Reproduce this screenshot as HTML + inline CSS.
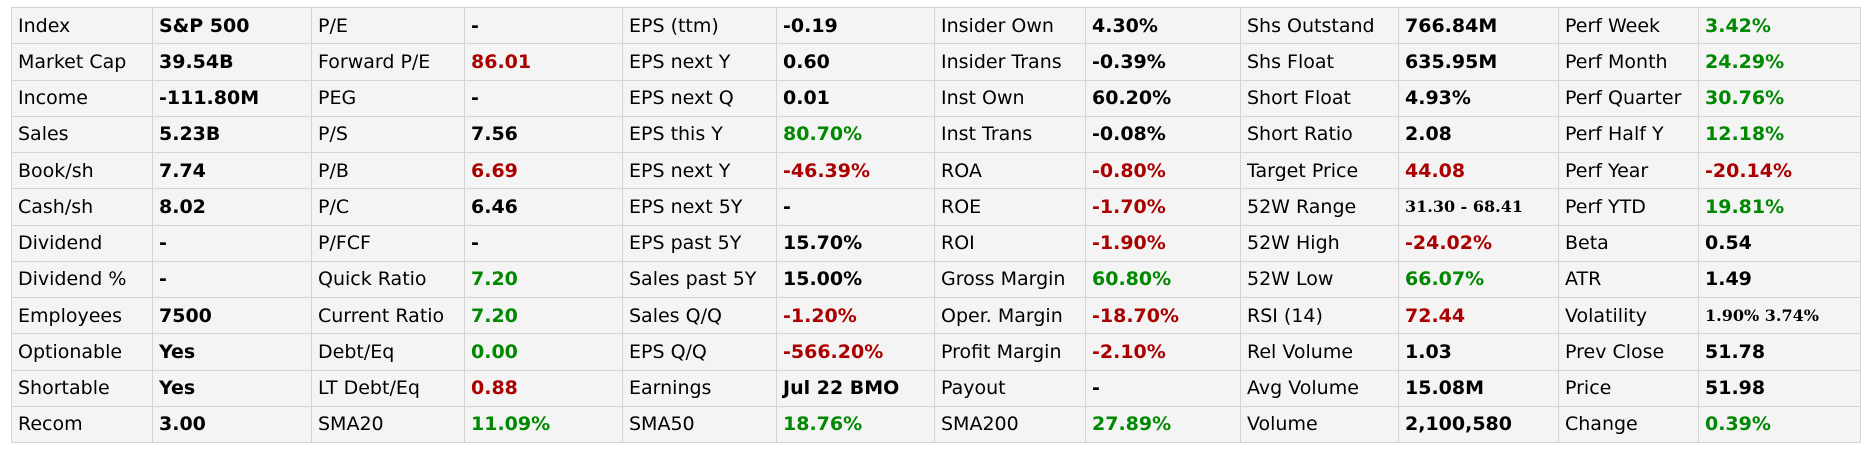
<!DOCTYPE html>
<html><head><meta charset="utf-8"><style>
html,body{margin:0;padding:0;background:#fff;width:1869px;height:451px;overflow:hidden}
table{position:absolute;left:11px;top:7px;border-collapse:collapse;table-layout:fixed;width:1849px;height:436px;background:#f4f4f4;font-family:"DejaVu Sans","Liberation Sans",sans-serif;font-size:19px;color:#000}
td{border:1px solid #d4d4d4;padding:0 0 0 6px;white-space:nowrap;overflow:hidden;height:35px;line-height:20px}
td:nth-child(even){font-weight:bold}
.r{color:#aa0000}.g{color:#008800}
.s{font-family:"DejaVu Serif","Liberation Serif",serif;font-size:16px}
</style></head><body>
<table>
<colgroup><col style="width:141px"><col style="width:159px"><col style="width:153px"><col style="width:158px"><col style="width:154px"><col style="width:158px"><col style="width:151px"><col style="width:155px"><col style="width:158px"><col style="width:160px"><col style="width:140px"><col style="width:162px"></colgroup>
<tr><td>Index</td><td>S&amp;P 500</td><td>P/E</td><td>-</td><td>EPS (ttm)</td><td>-0.19</td><td>Insider Own</td><td>4.30%</td><td>Shs Outstand</td><td>766.84M</td><td>Perf Week</td><td class="g">3.42%</td></tr>
<tr><td>Market Cap</td><td>39.54B</td><td>Forward P/E</td><td class="r">86.01</td><td>EPS next Y</td><td>0.60</td><td>Insider Trans</td><td>-0.39%</td><td>Shs Float</td><td>635.95M</td><td>Perf Month</td><td class="g">24.29%</td></tr>
<tr><td>Income</td><td>-111.80M</td><td>PEG</td><td>-</td><td>EPS next Q</td><td>0.01</td><td>Inst Own</td><td>60.20%</td><td>Short Float</td><td>4.93%</td><td>Perf Quarter</td><td class="g">30.76%</td></tr>
<tr><td>Sales</td><td>5.23B</td><td>P/S</td><td>7.56</td><td>EPS this Y</td><td class="g">80.70%</td><td>Inst Trans</td><td>-0.08%</td><td>Short Ratio</td><td>2.08</td><td>Perf Half Y</td><td class="g">12.18%</td></tr>
<tr><td>Book/sh</td><td>7.74</td><td>P/B</td><td class="r">6.69</td><td>EPS next Y</td><td class="r">-46.39%</td><td>ROA</td><td class="r">-0.80%</td><td>Target Price</td><td class="r">44.08</td><td>Perf Year</td><td class="r">-20.14%</td></tr>
<tr><td>Cash/sh</td><td>8.02</td><td>P/C</td><td>6.46</td><td>EPS next 5Y</td><td>-</td><td>ROE</td><td class="r">-1.70%</td><td>52W Range</td><td class="s">31.30 - 68.41</td><td>Perf YTD</td><td class="g">19.81%</td></tr>
<tr><td>Dividend</td><td>-</td><td>P/FCF</td><td>-</td><td>EPS past 5Y</td><td>15.70%</td><td>ROI</td><td class="r">-1.90%</td><td>52W High</td><td class="r">-24.02%</td><td>Beta</td><td>0.54</td></tr>
<tr><td>Dividend %</td><td>-</td><td>Quick Ratio</td><td class="g">7.20</td><td>Sales past 5Y</td><td>15.00%</td><td>Gross Margin</td><td class="g">60.80%</td><td>52W Low</td><td class="g">66.07%</td><td>ATR</td><td>1.49</td></tr>
<tr><td>Employees</td><td>7500</td><td>Current Ratio</td><td class="g">7.20</td><td>Sales Q/Q</td><td class="r">-1.20%</td><td>Oper. Margin</td><td class="r">-18.70%</td><td>RSI (14)</td><td class="r">72.44</td><td>Volatility</td><td class="s">1.90% 3.74%</td></tr>
<tr><td>Optionable</td><td>Yes</td><td>Debt/Eq</td><td class="g">0.00</td><td>EPS Q/Q</td><td class="r">-566.20%</td><td>Profit Margin</td><td class="r">-2.10%</td><td>Rel Volume</td><td>1.03</td><td>Prev Close</td><td>51.78</td></tr>
<tr><td>Shortable</td><td>Yes</td><td>LT Debt/Eq</td><td class="r">0.88</td><td>Earnings</td><td>Jul 22 BMO</td><td>Payout</td><td>-</td><td>Avg Volume</td><td>15.08M</td><td>Price</td><td>51.98</td></tr>
<tr><td>Recom</td><td>3.00</td><td>SMA20</td><td class="g">11.09%</td><td>SMA50</td><td class="g">18.76%</td><td>SMA200</td><td class="g">27.89%</td><td>Volume</td><td>2,100,580</td><td>Change</td><td class="g">0.39%</td></tr>
</table>
</body></html>
